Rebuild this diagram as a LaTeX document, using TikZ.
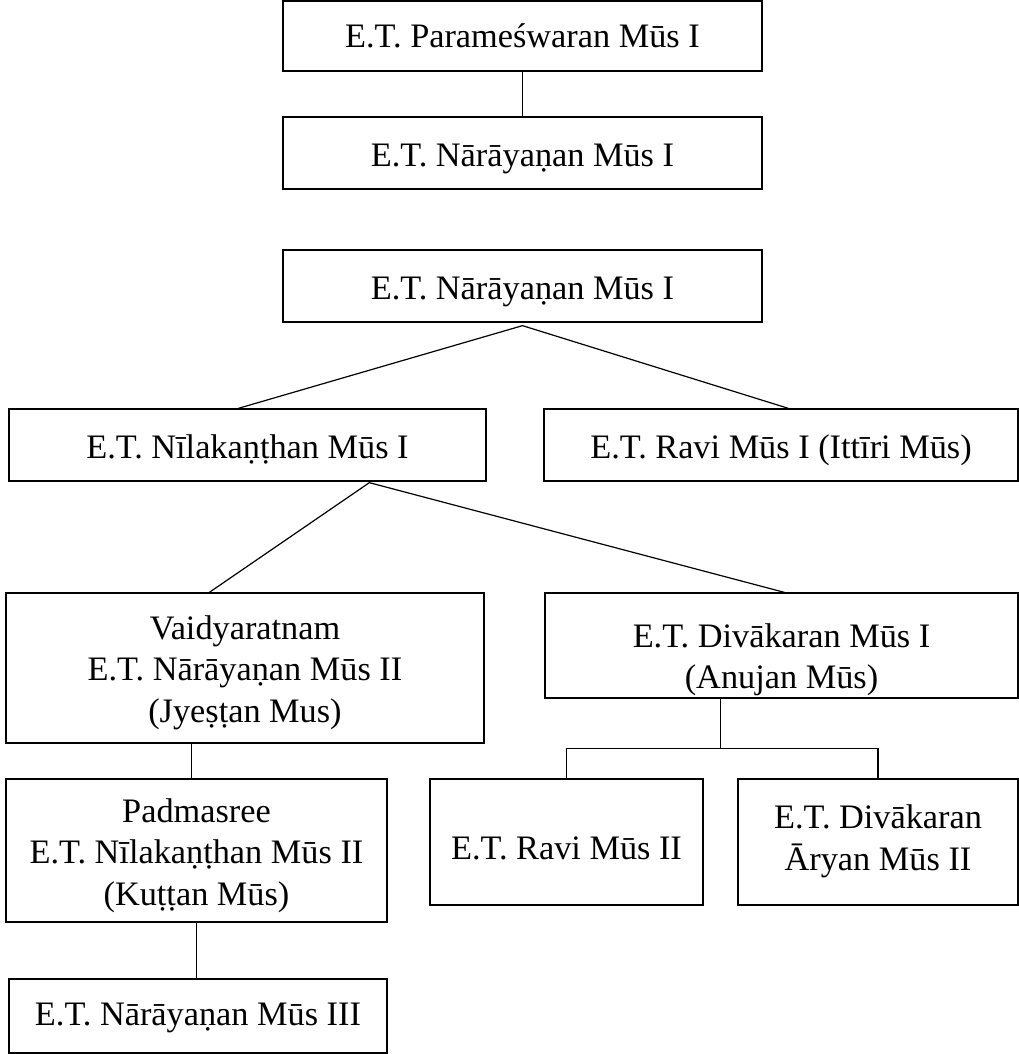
\documentclass[tikz,border=0pt]{standalone}
\usepackage{fontspec}
\setmainfont{Liberation Serif}
\usetikzlibrary{calc}
\begin{document}
\begin{tikzpicture}[x=1pt,y=-1pt,
  box/.style={draw,line width=1.3pt,inner sep=0pt},
  name text/.style={anchor=base,inner sep=0pt,align=center,
    font=\fontsize{34.3}{41.5}\selectfont},
  link/.style={line width=1.2pt}]
\useasboundingbox (0,0) rectangle (1019,1054);
% boxes: corners in picture units
\node[box,minimum width=479pt,minimum height=70pt] (B1) at (522.5,36) {};
\node[box,minimum width=479pt,minimum height=72pt] (B2) at (522.5,153) {};
\node[box,minimum width=479pt,minimum height=72pt] (B3) at (522.5,286) {};
\node[box,minimum width=477pt,minimum height=72pt] (B4) at (247.5,445) {};
\node[box,minimum width=474pt,minimum height=72pt] (B5) at (781,445) {};
\node[box,minimum width=478pt,minimum height=150pt] (B6) at (245,668) {};
\node[box,minimum width=473pt,minimum height=105pt] (B7) at (781.5,645.5) {};
\node[box,minimum width=381pt,minimum height=143pt] (B8) at (196.5,850.5) {};
\node[box,minimum width=378pt,minimum height=74pt] (B9) at (198,1016) {};
\node[box,minimum width=273pt,minimum height=126pt] (B10) at (566.5,842) {};
\node[box,minimum width=280pt,minimum height=126pt] (B11) at (878,842) {};

% names, set on the baseline of their last line
\node[name text] (T1) at (B1 |- 0,48) {E.T. Parameśwaran Mūs I};
\node[name text] (T2) at (B2 |- 0,166) {E.T. Nārāyaṇan Mūs I};
\node[name text] (T3) at (B3 |- 0,299) {E.T. Nārāyaṇan Mūs I};
\node[name text] (T4) at (B4 |- 0,458) {E.T. Nīlakaṇṭhan Mūs I};
\node[name text] (T5) at (B5 |- 0,458) {E.T. Ravi Mūs I (Ittīri Mūs)};
\node[name text] (T6) at (B6 |- 0,722) {Vaidyaratnam\\E.T. Nārāyaṇan Mūs II\\(Jyeṣṭan Mus)};
\node[name text] (T7) at (B7 |- 0,688.5) {E.T. Divākaran Mūs I\\(Anujan Mūs)};
\node[name text] (T8) at (B8 |- 0,905) {Padmasree\\E.T. Nīlakaṇṭhan Mūs II\\(Kuṭṭan Mūs)};
\node[name text] (T9) at (B9 |- 0,1025) {E.T. Nārāyaṇan Mūs III};
\node[name text] (T10) at (B10 |- 0,859) {E.T. Ravi Mūs II};
\node[name text] (T11) at (B11 |- 0,870) {E.T. Divākaran\\Āryan Mūs II};

% connectors
\draw[link] (B1) -- (B2);
\coordinate (j3) at ($(B3.south)+(0,3)$);
\draw[link] ($(B4.north west)+(230,0)$) -- (j3) -- ($(B5.north west)+(245,0)$);
\coordinate (j4) at ($(B4.south west)+(361,1)$);
\draw[link] ($(B6.north west)+(204,0)$) -- (j4) -- ($(B7.north west)+(240,0)$);
\coordinate (j6) at ($(B6.south west)+(186,0)$);
\draw[link] (j6) -- (j6 |- B8.north);
\draw[link] (B8.south) -- (B8.south |- B9.north);
\coordinate (j7) at ($(B7.south west)+(176,0)$);
\coordinate (k7) at ($(j7)+(0,50)$);
\draw[link] (j7) -- (k7);
\draw[link] (B10.north) |- (k7) -| (B11.north);
\end{tikzpicture}
\end{document}
